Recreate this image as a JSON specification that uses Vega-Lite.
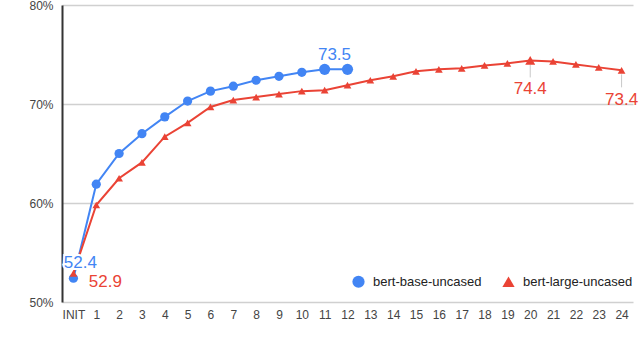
{
  "$schema": "https://vega.github.io/schema/vega-lite/v6.json",
  "width": 571,
  "height": 297,
  "autosize": "none",
  "padding": {"left": 62, "top": 5, "right": 7, "bottom": 53},
  "background": "white",
  "config": {"font": "Liberation Sans", "view": {"stroke": null}},
  "data": {
    "values": [
      {"layer": "INIT", "model": "bert-base-uncased", "value": 52.4},
      {"layer": "1", "model": "bert-base-uncased", "value": 61.9},
      {"layer": "2", "model": "bert-base-uncased", "value": 65.0},
      {"layer": "3", "model": "bert-base-uncased", "value": 67.0},
      {"layer": "4", "model": "bert-base-uncased", "value": 68.7},
      {"layer": "5", "model": "bert-base-uncased", "value": 70.3},
      {"layer": "6", "model": "bert-base-uncased", "value": 71.3},
      {"layer": "7", "model": "bert-base-uncased", "value": 71.8},
      {"layer": "8", "model": "bert-base-uncased", "value": 72.4},
      {"layer": "9", "model": "bert-base-uncased", "value": 72.8},
      {"layer": "10", "model": "bert-base-uncased", "value": 73.2},
      {"layer": "11", "model": "bert-base-uncased", "value": 73.5},
      {"layer": "12", "model": "bert-base-uncased", "value": 73.5},
      {"layer": "INIT", "model": "bert-large-uncased", "value": 52.9},
      {"layer": "1", "model": "bert-large-uncased", "value": 59.8},
      {"layer": "2", "model": "bert-large-uncased", "value": 62.5},
      {"layer": "3", "model": "bert-large-uncased", "value": 64.1},
      {"layer": "4", "model": "bert-large-uncased", "value": 66.7},
      {"layer": "5", "model": "bert-large-uncased", "value": 68.1},
      {"layer": "6", "model": "bert-large-uncased", "value": 69.7},
      {"layer": "7", "model": "bert-large-uncased", "value": 70.4},
      {"layer": "8", "model": "bert-large-uncased", "value": 70.7},
      {"layer": "9", "model": "bert-large-uncased", "value": 71.0},
      {"layer": "10", "model": "bert-large-uncased", "value": 71.3},
      {"layer": "11", "model": "bert-large-uncased", "value": 71.4},
      {"layer": "12", "model": "bert-large-uncased", "value": 71.9},
      {"layer": "13", "model": "bert-large-uncased", "value": 72.4},
      {"layer": "14", "model": "bert-large-uncased", "value": 72.8},
      {"layer": "15", "model": "bert-large-uncased", "value": 73.3},
      {"layer": "16", "model": "bert-large-uncased", "value": 73.5},
      {"layer": "17", "model": "bert-large-uncased", "value": 73.6},
      {"layer": "18", "model": "bert-large-uncased", "value": 73.9},
      {"layer": "19", "model": "bert-large-uncased", "value": 74.1},
      {"layer": "20", "model": "bert-large-uncased", "value": 74.4},
      {"layer": "21", "model": "bert-large-uncased", "value": 74.3},
      {"layer": "22", "model": "bert-large-uncased", "value": 74.0},
      {"layer": "23", "model": "bert-large-uncased", "value": 73.7},
      {"layer": "24", "model": "bert-large-uncased", "value": 73.4}
    ]
  },
  "encoding": {
    "x": {
      "field": "layer",
      "type": "ordinal",
      "sort": ["INIT", "1", "2", "3", "4", "5", "6", "7", "8", "9", "10", "11", "12", "13", "14", "15", "16", "17", "18", "19", "20", "21", "22", "23", "24"],
      "scale": {"type": "point", "padding": 0.5},
      "axis": {"title": null, "labelAngle": 0, "domain": false, "ticks": false, "labelPadding": 7, "labelFontSize": 12, "labelColor": "#444", "grid": false}
    },
    "y": {
      "field": "value",
      "type": "quantitative",
      "scale": {"domain": [50, 80]},
      "axis": {"title": null, "values": [50, 60, 70, 80], "labelExpr": "datum.value + '%'", "grid": true, "gridColor": "#d0d0d0", "gridWidth": 1.3, "domain": true, "domainColor": "#333", "domainWidth": 2, "ticks": false, "labelPadding": 9, "labelFontSize": 12, "labelColor": "#444"}
    }
  },
  "layer": [
    {
      "transform": [{"filter": "datum.model == 'bert-base-uncased'"}],
      "mark": {"type": "line", "strokeWidth": 2, "color": "#4285F4"},
      "encoding": {}
    },
    {
      "transform": [{"filter": "datum.model == 'bert-large-uncased'"}],
      "mark": {"type": "line", "strokeWidth": 2, "color": "#EA4335"},
      "encoding": {}
    },
    {
      "transform": [{"filter": "datum.model == 'bert-large-uncased' && (datum.layer == '20' || datum.layer == '24')"}],
      "mark": {"type": "rule", "color": "#c8c8c8", "strokeWidth": 1, "yOffset": 4, "y2Offset": 17},
      "encoding": {"y2": {"field": "value"}}
    },
    {
      "mark": {"type": "point", "filled": true, "opacity": 1},
      "encoding": {
        "color": {"field": "model", "type": "nominal", "title": null, "scale": {"domain": ["bert-base-uncased", "bert-large-uncased"], "range": ["#4285F4", "#EA4335"]},
          "legend": {"orient": "none", "legendX": 290, "legendY": 270, "direction": "horizontal", "symbolSize": 150, "labelFontSize": 13, "labelColor": "#222", "columnPadding": 20, "labelOffset": 8, "padding": 0, "symbolStrokeWidth": 0}},
        "shape": {"field": "model", "type": "nominal", "title": null, "scale": {"domain": ["bert-base-uncased", "bert-large-uncased"], "range": ["circle", "triangle-up"]}},
        "size": {
          "condition": [
            {"test": "datum.model == 'bert-base-uncased' && (datum.layer == '11' || datum.layer == '12')", "value": 125},
            {"test": "datum.model == 'bert-large-uncased' && datum.layer == '20'", "value": 100},
            {"test": "datum.model == 'bert-large-uncased'", "value": 60}
          ],
          "value": 85
        }
      }
    },
    {
      "transform": [{"filter": "datum.model == 'bert-base-uncased' && datum.layer == 'INIT'"}],
      "mark": {"type": "text", "dx": 7, "dy": -15, "fontSize": 17, "color": "white", "stroke": "white", "strokeWidth": 4, "align": "center", "baseline": "middle"},
      "encoding": {"text": {"field": "value", "format": ".1f"}}
    },
    {
      "transform": [{"filter": "datum.model == 'bert-base-uncased' && datum.layer == 'INIT'"}],
      "mark": {"type": "text", "dx": 7, "dy": -15, "fontSize": 17, "color": "#4285F4", "align": "center", "baseline": "middle"},
      "encoding": {"text": {"field": "value", "format": ".1f"}}
    },
    {
      "transform": [{"filter": "datum.model == 'bert-large-uncased' && datum.layer == 'INIT'"}],
      "mark": {"type": "text", "dx": 32, "dy": 9, "fontSize": 17, "color": "#EA4335", "align": "center", "baseline": "middle"},
      "encoding": {"text": {"field": "value", "format": ".1f"}}
    },
    {
      "transform": [{"filter": "datum.model == 'bert-base-uncased' && datum.layer == '12'"}],
      "mark": {"type": "text", "dx": -13, "dy": -14, "fontSize": 17, "color": "#4285F4", "align": "center", "baseline": "middle"},
      "encoding": {"text": {"field": "value", "format": ".1f"}}
    },
    {
      "transform": [{"filter": "datum.model == 'bert-large-uncased' && datum.layer == '20'"}],
      "mark": {"type": "text", "dx": 0, "dy": 29, "fontSize": 17, "color": "#EA4335", "align": "center", "baseline": "middle"},
      "encoding": {"text": {"field": "value", "format": ".1f"}}
    },
    {
      "transform": [{"filter": "datum.model == 'bert-large-uncased' && datum.layer == '24'"}],
      "mark": {"type": "text", "dx": 0, "dy": 30, "fontSize": 17, "color": "#EA4335", "align": "center", "baseline": "middle"},
      "encoding": {"text": {"field": "value", "format": ".1f"}}
    }
  ]
}
